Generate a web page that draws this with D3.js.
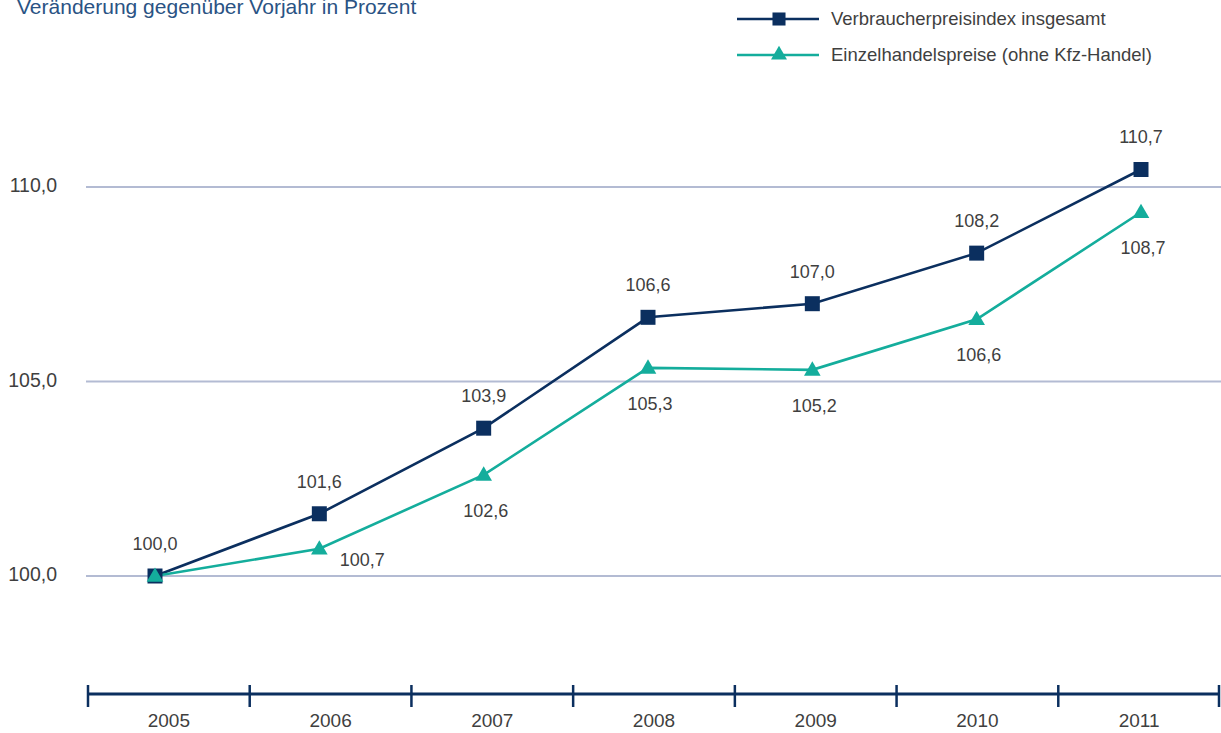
<!DOCTYPE html>
<html><head><meta charset="utf-8">
<script src="https://cdn.jsdelivr.net/npm/d3@7"></script>
<style>
html,body{margin:0;padding:0;background:#fff;overflow:hidden;}
svg{display:block;font-family:"Liberation Sans",Arial,sans-serif;}
</style></head>
<body>
<svg id="chart" width="1221" height="733"></svg>
<script>
const years = ["2005","2006","2007","2008","2009","2010","2011"];
const vpiValues = [100.0, 101.6, 103.8, 106.65, 107.0, 108.3, 110.45];
const vpiLabels = ["100,0","101,6","103,9","106,6","107,0","108,2","110,7"];
const ehValues = [100.0, 100.7, 102.6, 105.35, 105.3, 106.6, 109.35];
const ehLabels = ["100,0","100,7","102,6","105,3","105,2","106,6","108,7"];
const yTicks = [100, 105, 110];
const seriesNames = ["Verbraucherpreisindex insgesamt","Einzelhandelspreise (ohne Kfz-Handel)"];
const title = "Veränderung gegenüber Vorjahr in Prozent";

const navy = "#0b2f5f", teal = "#14ad9c", textCol = "#3f3f3f", gridCol = "#b3bbd3";
const svg = d3.select("#chart");

const y = d3.scaleLinear().domain([100,110]).range([576,187]);
const x = d3.scalePoint().domain(years).range([155,1141]);
const xb = d3.scaleBand().domain(years).range([88,1220]);

// title
svg.append("text").attr("x",17).attr("y",14).attr("fill","#2a5384")
  .attr("font-size",21).text(title);

// grid
const fmt = v => d3.format(".1f")(v).replace(".",",");
svg.append("g").selectAll("line").data(yTicks).join("line")
  .attr("x1",86).attr("x2",1221).attr("y1",d=>y(d)).attr("y2",d=>y(d))
  .attr("stroke",gridCol).attr("stroke-width",2);
svg.append("g").selectAll("text").data(yTicks).join("text")
  .attr("x",57).attr("y",d=>y(d)+5).attr("text-anchor","end")
  .attr("font-size",19.5).attr("fill",textCol).text(fmt);

// x axis
const axisY = 694;
const xAxis = d3.axisBottom(xb).tickSize(0).tickPadding(20);
const gx = svg.append("g").attr("transform",`translate(0,${axisY})`).call(xAxis);
gx.select(".domain").attr("d",`M${xb.range()[0]},0H${xb.range()[1]}`)
  .attr("stroke",navy).attr("stroke-width",3);
gx.selectAll(".tick text").attr("font-size",19).attr("fill",textCol)
  .attr("font-family","Liberation Sans, Arial, sans-serif");
const edges = years.map(d=>xb(d)).concat([xb.range()[1]-1]);
gx.append("g").selectAll("line").data(edges).join("line")
  .attr("x1",d=>d).attr("x2",d=>d).attr("y1",-9).attr("y2",13)
  .attr("stroke",navy).attr("stroke-width",2.5);

// lines
const line = d3.line().x((d,i)=>x(years[i])).y(d=>y(d));
svg.append("path").datum(vpiValues).attr("d",line).attr("fill","none")
  .attr("stroke",navy).attr("stroke-width",2.6);
svg.append("path").datum(ehValues).attr("d",line).attr("fill","none")
  .attr("stroke",teal).attr("stroke-width",2.6);

const sq = d3.symbol().type(d3.symbolSquare).size(225);
const tri = d3.symbol().type(d3.symbolTriangle).size(120);

svg.append("g").selectAll("path").data(vpiValues).join("path")
  .attr("d",sq).attr("fill",navy)
  .attr("transform",(d,i)=>`translate(${x(years[i])},${y(d)})`);
svg.append("g").selectAll("path").data(ehValues).join("path")
  .attr("d",tri).attr("fill",teal)
  .attr("transform",(d,i)=>`translate(${x(years[i])},${y(d)+1})`);

// value labels
svg.append("g").selectAll("text").data(vpiValues).join("text")
  .attr("x",(d,i)=>x(years[i])).attr("y",d=>y(d)-26)
  .attr("text-anchor","middle").attr("font-size",18).attr("fill",textCol)
  .text((d,i)=>vpiLabels[i]);
svg.append("g").selectAll("text").data(ehValues.slice(1)).join("text")
  .attr("x",(d,i)=>x(years[i+1]) + (i===0 ? 43 : 2))
  .attr("y",(d,i)=>y(d) + (i===0 ? 17 : 42))
  .attr("text-anchor","middle").attr("font-size",18).attr("fill",textCol)
  .text((d,i)=>ehLabels[i+1]);

// legend
const leg = svg.append("g");
const legRows = [{name:seriesNames[0],col:navy,sym:"sq",yy:19},{name:seriesNames[1],col:teal,sym:"tri",yy:55}];
legRows.forEach(r=>{
  leg.append("line").attr("x1",737).attr("x2",819).attr("y1",r.yy).attr("y2",r.yy)
    .attr("stroke",r.col).attr("stroke-width",2.6);
  leg.append("path").attr("d", r.sym==="sq" ? d3.symbol().type(d3.symbolSquare).size(170)() : d3.symbol().type(d3.symbolTriangle).size(110)())
    .attr("fill",r.col).attr("transform",`translate(779,${r.yy})`);
  leg.append("text").attr("x",831).attr("y",r.yy+6).attr("font-size",18.5)
    .attr("fill",textCol).text(r.name);
});
</script>
</body></html>
